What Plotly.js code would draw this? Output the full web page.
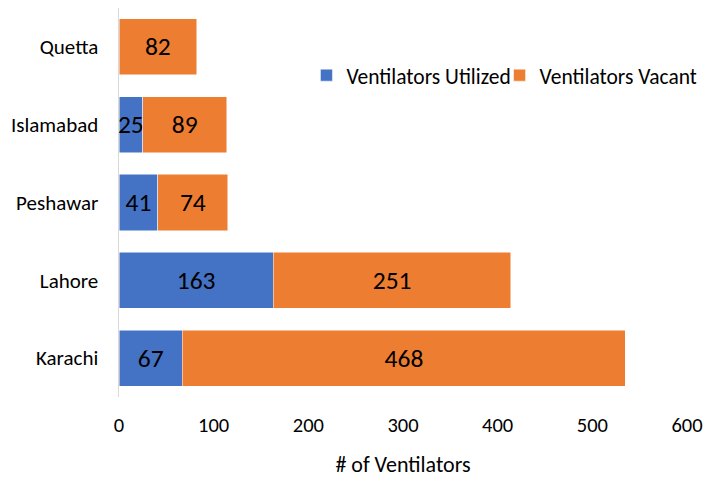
<!DOCTYPE html>
<html>
<head>
<meta charset="utf-8">
<script src="https://cdn.plot.ly/plotly-3.0.1.min.js"></script>
<style>html,body{margin:0;padding:0;background:#fff;}#chart{width:706px;height:484px;}</style>
</head>
<body>
<div id="chart"></div>
<script>
const cities = ['Karachi', 'Lahore', 'Peshawar', 'Islamabad', 'Quetta'];
const utilized = [67, 163, 41, 25, null];
const vacant = [468, 251, 74, 89, 82];
const xTicks = [0, 100, 200, 300, 400, 500, 600];

const FONT = 'Carlito, Lato, "Open Sans", "DejaVu Sans", sans-serif';

const traces = [
  {
    type: 'bar', orientation: 'h', name: 'Ventilators Utilized',
    y: cities, x: utilized,
    text: utilized.map(v => v == null ? '' : String(v)),
    textposition: 'inside', insidetextanchor: 'middle', constraintext: 'none', textangle: 0,
    textfont: {family: FONT, size: 25.5, color: '#000'},
    marker: {color: '#4472C4', line: {color: '#ffffff', width: 0.5}},
    legend: 'legend',
    hoverinfo: 'x+y'
  },
  {
    type: 'bar', orientation: 'h', name: 'Ventilators Vacant',
    y: cities, x: vacant,
    text: vacant.map(v => String(v)),
    textposition: 'inside', insidetextanchor: 'middle', constraintext: 'none', textangle: 0,
    textfont: {family: FONT, size: 25.5, color: '#000'},
    marker: {color: '#ED7D31', line: {color: '#ffffff', width: 0.5}},
    legend: 'legend2', legendwidth: 152,
    hoverinfo: 'x+y'
  }
];

const legendBase = {
  orientation: 'h', y: 0.88, xanchor: 'left', yanchor: 'top',
  font: {family: FONT, size: 21.5, color: '#000'},
  itemwidth: 30, bgcolor: 'rgba(0,0,0,0)'
};

const layout = {
  width: 706, height: 484,
  barmode: 'stack', bargap: 0.28,
  margin: {l: 119, r: 19, t: 8, b: 87},
  paper_bgcolor: '#fff', plot_bgcolor: '#fff',
  font: {family: FONT, size: 21, color: '#000'},
  showlegend: true,
  legend: Object.assign({}, legendBase, {x: 0.33}),
  legend2: Object.assign({}, legendBase, {x: 0.67}),
  xaxis: {
    range: [0, 600], tickvals: xTicks, ticktext: xTicks.map(String),
    showgrid: false, zeroline: false, showline: false, ticks: '',
    ticklabelstandoff: 13,
    tickfont: {family: FONT, size: 20.5, color: '#000'},
    title: {text: '# of Ventilators', font: {family: FONT, size: 22, color: '#000'}, standoff: 20},
    fixedrange: true
  },
  yaxis: {
    categoryorder: 'array', categoryarray: cities,
    showgrid: false, zeroline: false, showline: true, linecolor: '#D9D9D9', linewidth: 1.5,
    ticks: '', ticklabelstandoff: 15,
    tickfont: {family: FONT, size: 21, color: '#000'},
    fixedrange: true
  }
};

Plotly.newPlot('chart', traces, layout, {displayModeBar: false, staticPlot: true});
</script>
</body>
</html>
